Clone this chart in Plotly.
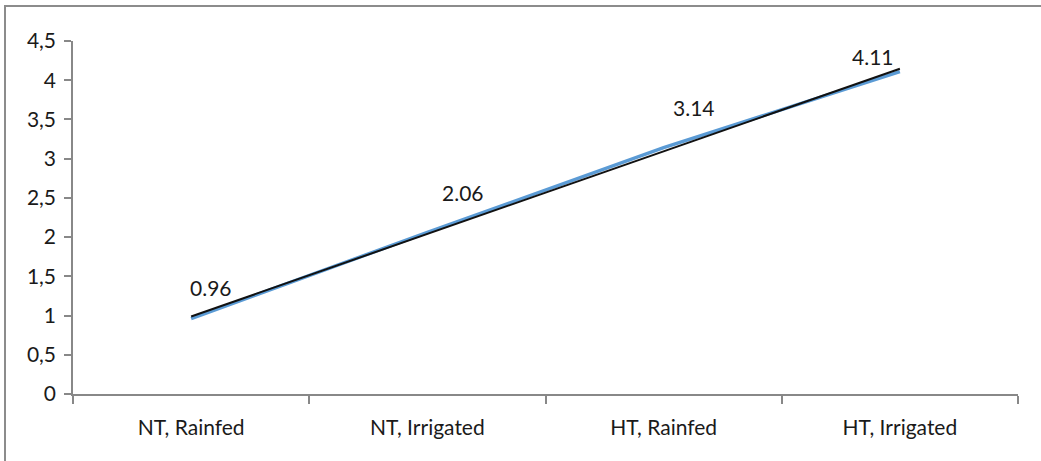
import numpy as np
import plotly.graph_objects as go

# Treatment groups and measured values
categories = ["NT, Rainfed", "NT, Irrigated", "HT, Rainfed", "HT, Irrigated"]
values = [0.96, 2.06, 3.14, 4.11]
value_labels = ["0.96", "2.06", "3.14", "4.11"]

y_tickvals = [0, 0.5, 1, 1.5, 2, 2.5, 3, 3.5, 4, 4.5]
y_ticktext = ["0", "0,5", "1", "1,5", "2", "2,5", "3", "3,5", "4", "4,5"]

# label offsets (pixels) relative to each point
label_dx = [20, 36, 30, -27]
label_dy = [31, 40, 40, 15]

FONT = "Lato"
W, H = 1041, 461
ml, mr, mt, mb = 73, 23, 41, 67

# linear trend over the category positions
xi = np.arange(1, len(values) + 1)
slope, intercept = np.polyfit(xi, values, 1)
trend = slope * xi + intercept

fig = go.Figure()
fig.add_trace(go.Scatter(
    x=categories, y=values, mode="lines",
    line=dict(color="#5B9BD5", width=3.5), showlegend=False,
))
fig.add_trace(go.Scatter(
    x=categories, y=trend, mode="lines",
    line=dict(color="#111111", width=2), showlegend=False,
))

for c, v, t, dx, dy in zip(categories, values, value_labels, label_dx, label_dy):
    fig.add_annotation(
        x=c, y=v, text=t, showarrow=False, xshift=dx, yshift=dy,
        font=dict(family=FONT, size=21, color="#1a1a1a"),
    )

# outer chart frame (left and top edges visible)
pw = W - ml - mr
ph = H - mt - mb
fx = (5 - ml) / pw
fy = (H - mb - 6) / ph
fig.add_shape(
    type="path", xref="paper", yref="paper",
    path=f"M {fx} {-0.5} L {fx} {fy} L 1.5 {fy}",
    line=dict(color="#8C8C8C", width=2),
)

fig.update_layout(
    width=W, height=H,
    margin=dict(l=ml, r=mr, t=mt, b=mb, pad=0),
    paper_bgcolor="white", plot_bgcolor="white",
    font=dict(family=FONT, size=21, color="#1a1a1a"),
    xaxis=dict(
        type="category", range=[-0.5, 3.5],
        showline=True, linecolor="#888888", linewidth=1.5,
        ticks="outside", ticklen=8, tickcolor="#888888", tickwidth=1.5,
        tickson="boundaries", showgrid=False, zeroline=False,
        ticklabelstandoff=14,
        tickfont=dict(family=FONT, size=21, color="#1a1a1a"),
    ),
    yaxis=dict(
        range=[0, 4.5], tickvals=y_tickvals, ticktext=y_ticktext,
        showline=True, linecolor="#888888", linewidth=1.5,
        ticks="outside", ticklen=7, tickcolor="#888888", tickwidth=1.5,
        showgrid=False, zeroline=False, ticklabelstandoff=4,
        tickfont=dict(family=FONT, size=21, color="#1a1a1a"),
    ),
)

fig.write_html("out.html")
